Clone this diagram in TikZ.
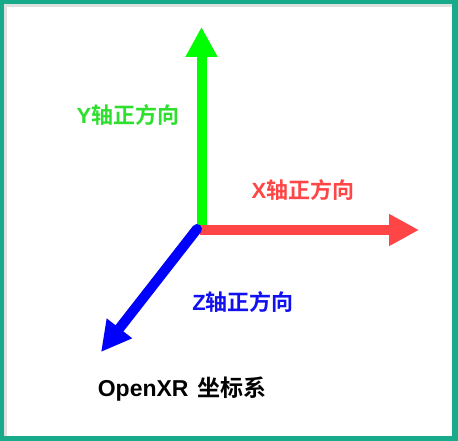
\documentclass[tikz,border=0pt]{standalone}
\usepackage{fontspec}
\newfontfamily\cjk{Noto Sans CJK SC}[BoldFont={Noto Sans CJK SC Bold}]
\newfontfamily\lat{Liberation Sans}
\usetikzlibrary{arrows.meta}
\definecolor{frame}{HTML}{17AB8B}
\definecolor{ygreen}{HTML}{00FF00}
\definecolor{ytext}{HTML}{2EE02E}
\definecolor{xred}{HTML}{FF4545}
\definecolor{zblue}{HTML}{0000FF}
\definecolor{ztext}{HTML}{1010F0}
\begin{document}
\begin{tikzpicture}[x=1pt,y=-1pt,
  axis/.style={line width=10pt,-{Triangle[length=30pt,width=30pt]}},
  axlabel/.style={font=\bfseries\fontsize{22}{22}\selectfont,inner sep=0pt},
  shadowline/.style={line width=10pt,black!25,-{Triangle[length=30pt,width=30pt]}}]
\useasboundingbox (0,0) rectangle (458,441);
\fill[frame] (0,0) rectangle (458,441);
\fill[white] (4,4) rectangle (452,436);
\fill[black!12] (4,4) rectangle (452,7);
\fill[black!12] (4,4) rectangle (7,436);
\fill[white] (7,7) rectangle (452,436);
\coordinate (O) at (201.5,230);
\coordinate (Oz) at (197,229);
\coordinate (Y) at (201.5,27);
\coordinate (X) at (419,230);
\coordinate (Z) at (101,352);
% soft shadows
\begin{scope}[opacity=0.35,shift={(2,3)}]
\draw[shadowline] (O) -- (Y);
\draw[shadowline] (O) -- (X);
\draw[shadowline] (Oz) -- (Z);
\end{scope}
\draw[axis,ygreen] ([yshift=-1pt]O) -- (Y);
\draw[axis,xred] ([xshift=-2pt]O) -- (X);
\draw[axis,zblue,line cap=round] (Oz) -- (Z);
\node[axlabel,text=ytext] (ylab) at (128,115) {{\lat Y}{\cjk 轴正方向}};
\node[axlabel,text=xred] (xlab) at (303,190) {{\lat X}{\cjk 轴正方向}};
\node[axlabel,text=ztext] (zlab) at (243,302) {{\lat Z}{\cjk 轴正方向}};
\node[font=\bfseries\fontsize{23}{23}\selectfont,inner sep=0pt] (title) at (182,389) {{\lat OpenXR} {\cjk 坐标系}};
\end{tikzpicture}
\end{document}
